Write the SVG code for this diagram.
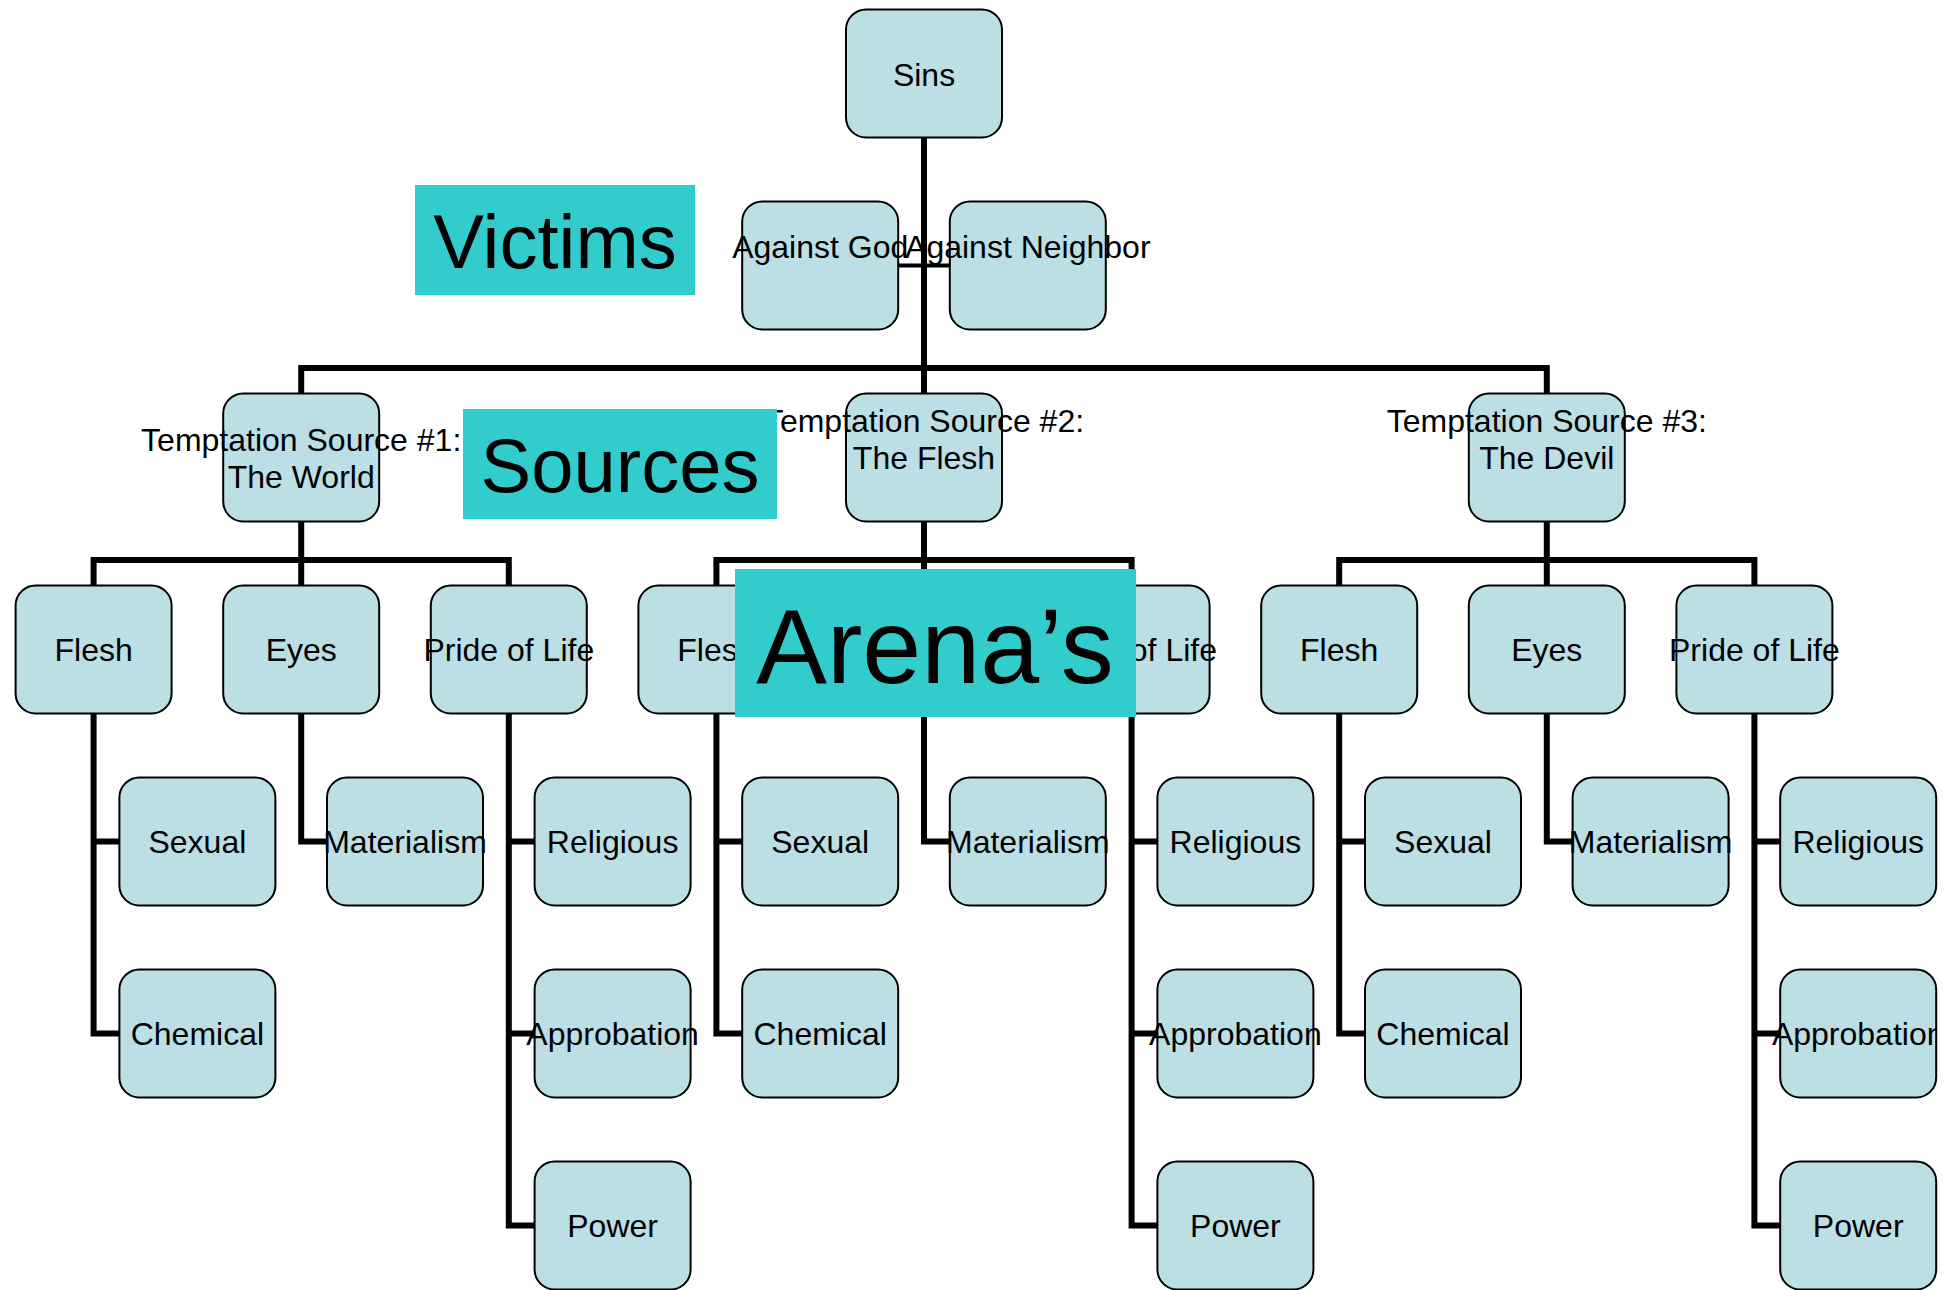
<svg xmlns="http://www.w3.org/2000/svg" width="1957" height="1290" viewBox="0 0 1957 1290">
<style>
.box{fill:#BBDFE5;stroke:#000;stroke-width:2}
.t{font-family:"Liberation Sans",Arial,sans-serif;font-size:32px;fill:#000;text-anchor:middle}
.lbl{fill:#33CCCC}
.lt{font-family:"Liberation Sans",Arial,sans-serif;fill:#000;text-anchor:middle}
.c{fill:none;stroke:#000;stroke-width:6;stroke-linejoin:miter;stroke-linecap:butt}
.c4{fill:none;stroke:#000;stroke-width:4}
</style>
<defs>
<rect id="b" width="156" height="128" rx="20" ry="20" class="box"/>
<clipPath id="edge"><rect x="0" y="0" width="1936" height="1290"/></clipPath>
</defs>
<rect width="1957" height="1290" fill="#fff"/>
<g id="connectors">
<path class="c" d="M924 137.5V393.5"/>
<path class="c4" d="M898.2 265.5H949.8"/>
<path class="c" d="M301.2 393.5V368H1546.8V393.5"/>
<path class="c" d="M301.2 521.5V585.5M93.6 585.5V560H508.8V585.5"/>
<path class="c" d="M924 521.5V585.5M716.4 585.5V560H1131.6V585.5"/>
<path class="c" d="M1546.8 521.5V585.5M1339.2 585.5V560H1754.4V585.5"/>
<path class="c" d="M93.6 713.5V1033.5H119.4M93.6 841.5H119.4"/>
<path class="c" d="M301.2 713.5V841.5H327"/>
<path class="c" d="M508.8 713.5V1225.5H534.6M508.8 841.5H534.6M508.8 1033.5H534.6"/>
<path class="c" d="M716.4 713.5V1033.5H742.2M716.4 841.5H742.2"/>
<path class="c" d="M924 713.5V841.5H949.8"/>
<path class="c" d="M1131.6 713.5V1225.5H1157.4M1131.6 841.5H1157.4M1131.6 1033.5H1157.4"/>
<path class="c" d="M1339.2 713.5V1033.5H1365M1339.2 841.5H1365"/>
<path class="c" d="M1546.8 713.5V841.5H1572.6"/>
<path class="c" d="M1754.4 713.5V1225.5H1780.2M1754.4 841.5H1780.2M1754.4 1033.5H1780.2"/>
</g>
<g id="node-sins"><use href="#b" x="846" y="9.5"/><text class="t" x="924" y="86">Sins</text></g>
<g id="node-against-god"><use href="#b" x="742.2" y="201.5"/></g>
<g id="node-against-neighbor"><use href="#b" x="949.8" y="201.5"/></g>
<text class="t" x="820.2" y="258">Against God</text>
<text class="t" x="1027.8" y="258">Against Neighbor</text>
<g id="node-ts1"><use href="#b" x="223.2" y="393.5"/><text class="t" x="301.2" y="451">Temptation Source #1:</text><text class="t" x="301.2" y="488">The World</text></g>
<g id="node-ts2"><use href="#b" x="846" y="393.5"/><text class="t" x="924" y="432">Temptation Source #2:</text><text class="t" x="924" y="469">The Flesh</text></g>
<g id="node-ts3"><use href="#b" x="1468.8" y="393.5"/><text class="t" x="1546.8" y="432">Temptation Source #3:</text><text class="t" x="1546.8" y="469">The Devil</text></g>
<g id="node-flesh1"><use href="#b" x="15.6" y="585.5"/><text class="t" x="93.6" y="661">Flesh</text></g>
<g id="node-eyes1"><use href="#b" x="223.2" y="585.5"/><text class="t" x="301.2" y="661">Eyes</text></g>
<g id="node-pride1"><use href="#b" x="430.8" y="585.5"/><text class="t" x="508.8" y="661">Pride of Life</text></g>
<g id="node-flesh2"><use href="#b" x="638.4" y="585.5"/><text class="t" x="716.4" y="661">Flesh</text></g>
<g id="node-eyes2"><use href="#b" x="846" y="585.5"/><text class="t" x="924" y="661">Eyes</text></g>
<g id="node-pride2"><use href="#b" x="1053.6" y="585.5"/><text class="t" x="1131.6" y="661">Pride of Life</text></g>
<g id="node-flesh3"><use href="#b" x="1261.2" y="585.5"/><text class="t" x="1339.2" y="661">Flesh</text></g>
<g id="node-eyes3"><use href="#b" x="1468.8" y="585.5"/><text class="t" x="1546.8" y="661">Eyes</text></g>
<g id="node-pride3"><use href="#b" x="1676.4" y="585.5"/><text class="t" x="1754.4" y="661">Pride of Life</text></g>
<g id="node-sexual1"><use href="#b" x="119.4" y="777.5"/><text class="t" x="197.4" y="853">Sexual</text></g>
<g id="node-chemical1"><use href="#b" x="119.4" y="969.5"/><text class="t" x="197.4" y="1045">Chemical</text></g>
<g id="node-materialism1"><use href="#b" x="327" y="777.5"/><text class="t" x="405" y="853">Materialism</text></g>
<g id="node-religious1"><use href="#b" x="534.6" y="777.5"/><text class="t" x="612.6" y="853">Religious</text></g>
<g id="node-approbation1"><use href="#b" x="534.6" y="969.5"/><text class="t" x="612.6" y="1045">Approbation</text></g>
<g id="node-power1"><use href="#b" x="534.6" y="1161.5"/><text class="t" x="612.6" y="1237">Power</text></g>
<g id="node-sexual2"><use href="#b" x="742.2" y="777.5"/><text class="t" x="820.2" y="853">Sexual</text></g>
<g id="node-chemical2"><use href="#b" x="742.2" y="969.5"/><text class="t" x="820.2" y="1045">Chemical</text></g>
<g id="node-materialism2"><use href="#b" x="949.8" y="777.5"/><text class="t" x="1027.8" y="853">Materialism</text></g>
<g id="node-religious2"><use href="#b" x="1157.4" y="777.5"/><text class="t" x="1235.4" y="853">Religious</text></g>
<g id="node-approbation2"><use href="#b" x="1157.4" y="969.5"/><text class="t" x="1235.4" y="1045">Approbation</text></g>
<g id="node-power2"><use href="#b" x="1157.4" y="1161.5"/><text class="t" x="1235.4" y="1237">Power</text></g>
<g id="node-sexual3"><use href="#b" x="1365" y="777.5"/><text class="t" x="1443" y="853">Sexual</text></g>
<g id="node-chemical3"><use href="#b" x="1365" y="969.5"/><text class="t" x="1443" y="1045">Chemical</text></g>
<g id="node-materialism3"><use href="#b" x="1572.6" y="777.5"/><text class="t" x="1650.6" y="853">Materialism</text></g>
<g id="node-religious3"><use href="#b" x="1780.2" y="777.5"/><text class="t" x="1858.2" y="853">Religious</text></g>
<g id="node-approbation3"><use href="#b" x="1780.2" y="969.5"/><text class="t" x="1858.2" y="1045" clip-path="url(#edge)">Approbation</text></g>
<g id="node-power3"><use href="#b" x="1780.2" y="1161.5"/><text class="t" x="1858.2" y="1237">Power</text></g>
<g id="label-victims"><rect class="lbl" x="415" y="185" width="280" height="110"/><text class="lt" x="555" y="268" font-size="76">Victims</text></g>
<g id="label-sources"><rect class="lbl" x="463" y="409" width="314" height="110"/><text class="lt" x="620" y="492" font-size="76">Sources</text></g>
<g id="label-arenas"><rect class="lbl" x="735" y="569" width="401" height="148"/><text class="lt" x="935" y="683" font-size="106">Arena’s</text></g>
</svg>
